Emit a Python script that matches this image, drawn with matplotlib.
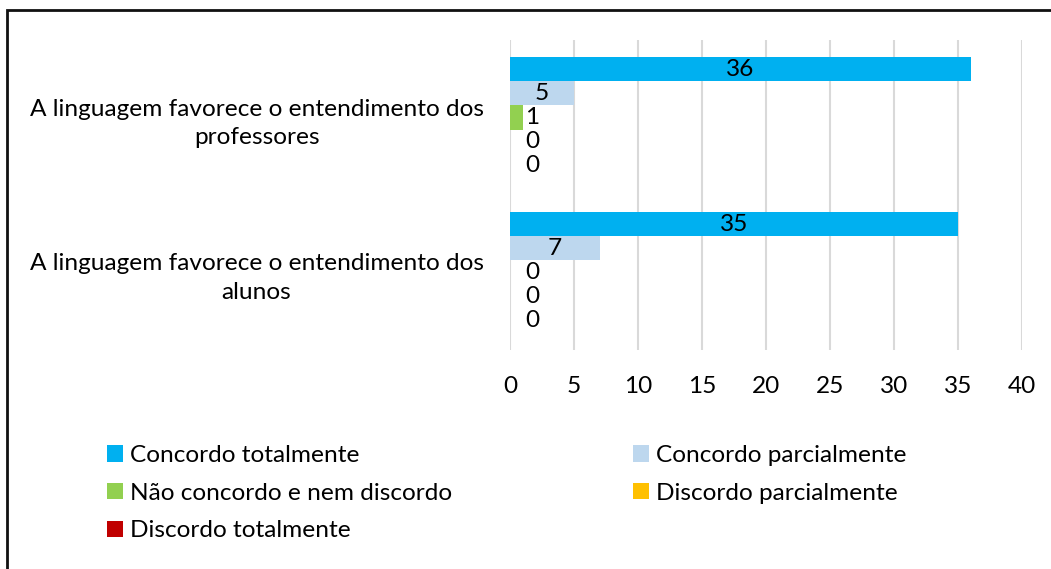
import numpy as np
import matplotlib.pyplot as plt
from matplotlib.patches import Rectangle

plt.rcParams['font.family'] = ['Lato', 'DejaVu Sans']

# data
categories = ['A linguagem favorece o entendimento dos\nprofessores',
              'A linguagem favorece o entendimento dos\nalunos']
series = ['Concordo totalmente', 'Concordo parcialmente',
          'Não concordo e nem discordo', 'Discordo parcialmente',
          'Discordo totalmente']
values = [[36, 35],
          [5, 7],
          [1, 0],
          [0, 0],
          [0, 0]]
colors = ['#00B0F0', '#BDD7EE', '#92D050', '#FFC000', '#C00000']

fs = 17.6
fig = plt.figure(figsize=(10.51, 5.69), dpi=100)
ax = fig.add_axes([510 / 1051, 1 - 350 / 569, 512 / 1051, 310 / 569])

y = np.arange(len(categories))
bh = 0.156
handles = []
for i, (name, vals) in enumerate(zip(series, values)):
    pos = y + (i - 2) * bh
    b = ax.barh(pos, vals, height=bh, color=colors[i], label=name, zorder=2)
    handles.append(b)
    for p, v in zip(pos, vals):
        ax.text(max(v / 2, 1.72), p, str(v), ha='center', va='center',
                fontsize=fs, zorder=3)

ax.set_xlim(0, 40)
ax.set_ylim(-0.5, 1.5)
ax.invert_yaxis()
ax.set_xticks(np.arange(0, 41, 5))
ax.set_yticks(y)
ax.set_yticklabels(categories, multialignment='center', linespacing=1.42)
ax.tick_params(axis='both', length=0, labelsize=fs)
ax.tick_params(axis='x', pad=19)
ax.tick_params(axis='y', pad=19)
ax.xaxis.grid(True, color='#D9D9D9', linewidth=1.5, zorder=0)
for s in ax.spines.values():
    s.set_visible(False)

# legend in two columns, Excel order row by row
kw = dict(frameon=False, fontsize=fs, handlelength=0.65, handleheight=0.65,
          handletextpad=0.3, labelspacing=0.68, borderaxespad=0, borderpad=0,
          loc='upper left')
fig.legend([handles[0], handles[2], handles[4]],
           [series[0], series[2], series[4]],
           bbox_to_anchor=(107 / 1051, 1 - 445 / 569), **kw)
fig.legend([handles[1], handles[3]], [series[1], series[3]],
           bbox_to_anchor=(633 / 1051, 1 - 445 / 569), **kw)

# outer frame (right and bottom edges fall outside the image)
fig.patches.append(Rectangle((7 / 1051, -0.1), 1.2, 1 - 10 / 569 + 0.1,
                             transform=fig.transFigure, fill=False,
                             edgecolor='#111111', linewidth=2))

fig.savefig('out.png', dpi=100)
